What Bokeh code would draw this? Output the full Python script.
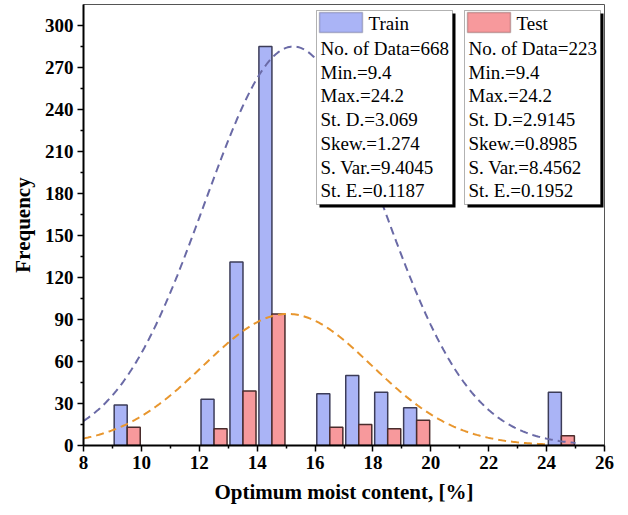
import numpy as np
from bokeh.plotting import figure
from bokeh.models import Range1d, FixedTicker, BoxAnnotation, Label
from bokeh.embed import file_html
from bokeh.resources import INLINE

# Histogram bins: lower edge of each 1 %-wide bin and counts per data set
bin_starts = [9, 12, 13, 14, 16, 17, 18, 19, 24]
train_counts = [29, 33, 131, 285, 37, 50, 38, 27, 38]
test_counts = [13, 12, 39, 94, 13, 15, 12, 18, 7]

# Descriptive statistics shown in the two stat boxes
train_stats = ["No. of Data=668", "Min.=9.4", "Max.=24.2", "St. D.=3.069",
               "Skew.=1.274", "S. Var.=9.4045", "St. E.=0.1187"]
test_stats = ["No. of Data=223", "Min.=9.4", "Max.=24.2", "St. D.=2.9145",
              "Skew.=0.8985", "S. Var.=8.4562", "St. E.=0.1952"]

# Fitted normal curves (mean, standard deviation), peak scaled to the tallest bar
train_mean, train_sd = 15.25, 3.069
test_mean, test_sd = 15.05, 2.9145

x_ticks = [8, 10, 12, 14, 16, 18, 20, 22, 24, 26]
x_minor = [9, 11, 13, 15, 17, 19, 21, 23, 25]
y_ticks = [0, 30, 60, 90, 120, 150, 180, 210, 240, 270, 300]
y_minor = [15, 45, 75, 105, 135, 165, 195, 225, 255, 285]

TRAIN_FILL, TRAIN_EDGE, TRAIN_CURVE = "#aab4f6", "#3c3c58", "#6a6aa6"
TEST_FILL, TEST_EDGE, TEST_CURVE = "#f7999c", "#4a2c2c", "#e8962e"
FONT = "Liberation Serif"

X0, X1, Y0, Y1 = 8, 26, 0, 315
W, H = 628, 515
ML, MR, MT, MB = 83, 24, 4, 70

p = figure(width=W, height=H, x_range=Range1d(X0, X1), y_range=Range1d(Y0, Y1),
           output_backend="svg", toolbar_location=None,
           min_border_left=ML, min_border_right=MR,
           min_border_top=MT, min_border_bottom=MB)
p.grid.visible = False
p.outline_line_color = "#555555"
p.outline_line_width = 1

# pixel -> data helpers for placing the stat boxes
fw, fh = W - ML - MR, H - MT - MB
def px_x(px):
    return X0 + (px - ML) / fw * (X1 - X0)
def px_y(py):
    return Y1 - (py - MT) / fh * (Y1 - Y0)

# bars: train in the left half of each bin, test in the right half
p.vbar(x=[b + 0.285 for b in bin_starts], top=train_counts, width=0.45, bottom=0,
       fill_color=TRAIN_FILL, line_color=TRAIN_EDGE, line_width=1.5)
p.vbar(x=[b + 0.735 for b in bin_starts], top=test_counts, width=0.45, bottom=0,
       fill_color=TEST_FILL, line_color=TEST_EDGE, line_width=1.5)

# normal curves
xs_tr = np.linspace(8, 25, 300)
ys_tr = max(train_counts) * np.exp(-(xs_tr - train_mean) ** 2 / (2 * train_sd ** 2))
xs_te = np.linspace(8, 24, 300)
ys_te = max(test_counts) * np.exp(-(xs_te - test_mean) ** 2 / (2 * test_sd ** 2))
p.line(xs_tr, ys_tr, line_color=TRAIN_CURVE, line_width=2, line_dash="8 5")
p.line(xs_te, ys_te, line_color=TEST_CURVE, line_width=2, line_dash="8 5")

# axes
p.xaxis.ticker = FixedTicker(ticks=x_ticks, minor_ticks=x_minor)
p.yaxis.ticker = FixedTicker(ticks=y_ticks, minor_ticks=y_minor)
for ax in (p.xaxis[0], p.yaxis[0]):
    ax.axis_line_width = 2
    ax.axis_line_color = "black"
    ax.major_tick_in = 0
    ax.major_tick_out = 6
    ax.minor_tick_in = 0
    ax.minor_tick_out = 3
    ax.major_tick_line_width = 1.5
    ax.minor_tick_line_width = 1.5
    ax.major_tick_line_color = "black"
    ax.minor_tick_line_color = "black"
    ax.major_label_text_font = FONT
    ax.major_label_text_font_style = "bold"
    ax.major_label_text_font_size = "19px"
    ax.major_label_text_color = "black"
    ax.axis_label_text_font = FONT
    ax.axis_label_text_font_style = "bold"
    ax.axis_label_text_font_size = "21px"
    ax.axis_label_text_color = "black"
    ax.major_label_standoff = 4
p.xaxis.axis_label = "Optimum moist content, [%]"
p.yaxis.axis_label = "Frequency"
p.xaxis.axis_label_standoff = 8
p.yaxis.axis_label_standoff = 7

# stat boxes
def stat_box(left_px, right_px, title, fill, edge, lines):
    top_px, bot_px = 10, 204
    p.add_layout(BoxAnnotation(left=px_x(left_px + 3), right=px_x(right_px + 3),
                               top=px_y(top_px + 3), bottom=px_y(bot_px + 3),
                               fill_color="black", fill_alpha=1, line_alpha=0))
    p.add_layout(BoxAnnotation(left=px_x(left_px), right=px_x(right_px),
                               top=px_y(top_px), bottom=px_y(bot_px),
                               fill_color="white", fill_alpha=1,
                               line_color="black", line_width=1))
    p.add_layout(BoxAnnotation(left=px_x(left_px + 3), right=px_x(left_px + 46),
                               top=px_y(top_px + 2), bottom=px_y(top_px + 22),
                               fill_color=fill, fill_alpha=1,
                               line_color=edge, line_width=1.5))
    p.add_layout(Label(x=px_x(left_px + 52), y=px_y(23), text=title,
                       text_font=FONT, text_font_size="19px", text_color="black",
                       text_baseline="middle", text_align="left"))
    for i, t in enumerate(lines):
        p.add_layout(Label(x=px_x(left_px + 4), y=px_y(48 + i * 23.7), text=t,
                           text_font=FONT, text_font_size="19px", text_color="black",
                           text_baseline="middle", text_align="left"))

stat_box(316, 452, "Train", TRAIN_FILL, TRAIN_EDGE, train_stats)
stat_box(464, 600, "Test", TEST_FILL, TEST_EDGE, test_stats)

open("out.html", "w").write(file_html(p, INLINE))
